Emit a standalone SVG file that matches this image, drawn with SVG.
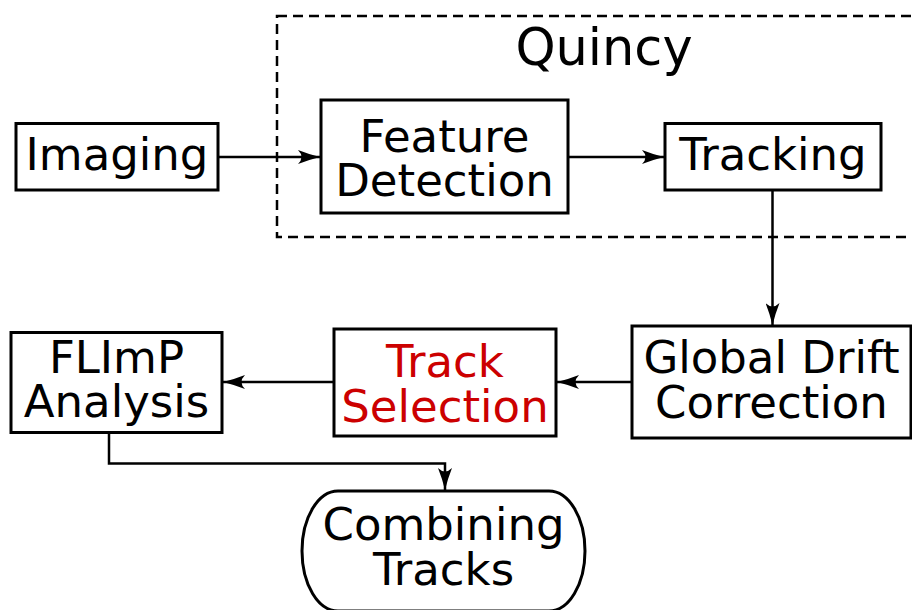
<svg xmlns="http://www.w3.org/2000/svg" width="912" height="610" viewBox="0 0 912 610">
  <style>
    .box { fill: #ffffff; stroke: #000000; stroke-width: 3; }
    .label { font-family: "DejaVu Sans", "Liberation Sans", sans-serif; font-size: 45px; fill: #000000; text-anchor: middle; }
    .title { font-size: 51px; }
    .red { fill: #cc0000; }
    .edge { fill: none; stroke: #000000; stroke-width: 2.5; }
    .group { fill: none; stroke: #000000; stroke-width: 2.5; stroke-dasharray: 10 6; }
  </style>
  <defs>
    <marker id="arrow" markerUnits="userSpaceOnUse" viewBox="-22 -7 23 14" markerWidth="23" markerHeight="14" refX="0" refY="0" orient="auto">
      <path d="M0,0 Q-12,-3 -22,-7 Q-15,0 -22,7 Q-12,3 0,0 Z" fill="#000000"/>
    </marker>
  </defs>

  <!-- Quincy package boundary -->
  <g id="quincy">
    <rect class="group" x="277" y="16" width="700" height="221"/>
    <text class="label title" x="604" y="65">Quincy</text>
  </g>

  <!-- connectors -->
  <g id="connectors">
    <path class="edge" d="M218,157 H320" marker-end="url(#arrow)"/>
    <path class="edge" d="M568,157 H664" marker-end="url(#arrow)"/>
    <path class="edge" d="M772.5,190 V325" marker-end="url(#arrow)"/>
    <path class="edge" d="M632,382 H557" marker-end="url(#arrow)"/>
    <path class="edge" d="M334,382 H223" marker-end="url(#arrow)"/>
    <path class="edge" d="M109,433 V463.5 H445 V490" marker-end="url(#arrow)"/>
  </g>

  <g id="imaging">
    <rect class="box" x="16" y="123.5" width="202" height="66.5"/>
    <text class="label" x="117" y="170">Imaging</text>
  </g>

  <g id="feature-detection">
    <rect class="box" x="321" y="100" width="247" height="113"/>
    <text class="label" x="444.5" y="152">Feature</text>
    <text class="label" x="444.5" y="196">Detection</text>
  </g>

  <g id="tracking">
    <rect class="box" x="665" y="123.5" width="216" height="66.5"/>
    <text class="label" x="773" y="170">Tracking</text>
  </g>

  <g id="global-drift-correction">
    <rect class="box" x="632" y="326" width="279" height="112"/>
    <text class="label" x="771.5" y="373">Global Drift</text>
    <text class="label" x="771.5" y="418">Correction</text>
  </g>

  <g id="track-selection">
    <rect class="box" x="334" y="329" width="222" height="107"/>
    <text class="label red" x="445" y="377">Track</text>
    <text class="label red" x="445" y="422">Selection</text>
  </g>

  <g id="flimp-analysis">
    <rect class="box" x="11" y="332.5" width="211" height="100"/>
    <text class="label" x="116.5" y="373">FLImP</text>
    <text class="label" x="116.5" y="417">Analysis</text>
  </g>

  <g id="combining-tracks">
    <rect class="box" x="302" y="491" width="283" height="120" rx="36" ry="60"/>
    <text class="label" x="443.5" y="540">Combining</text>
    <text class="label" x="443.5" y="585">Tracks</text>
  </g>
</svg>
